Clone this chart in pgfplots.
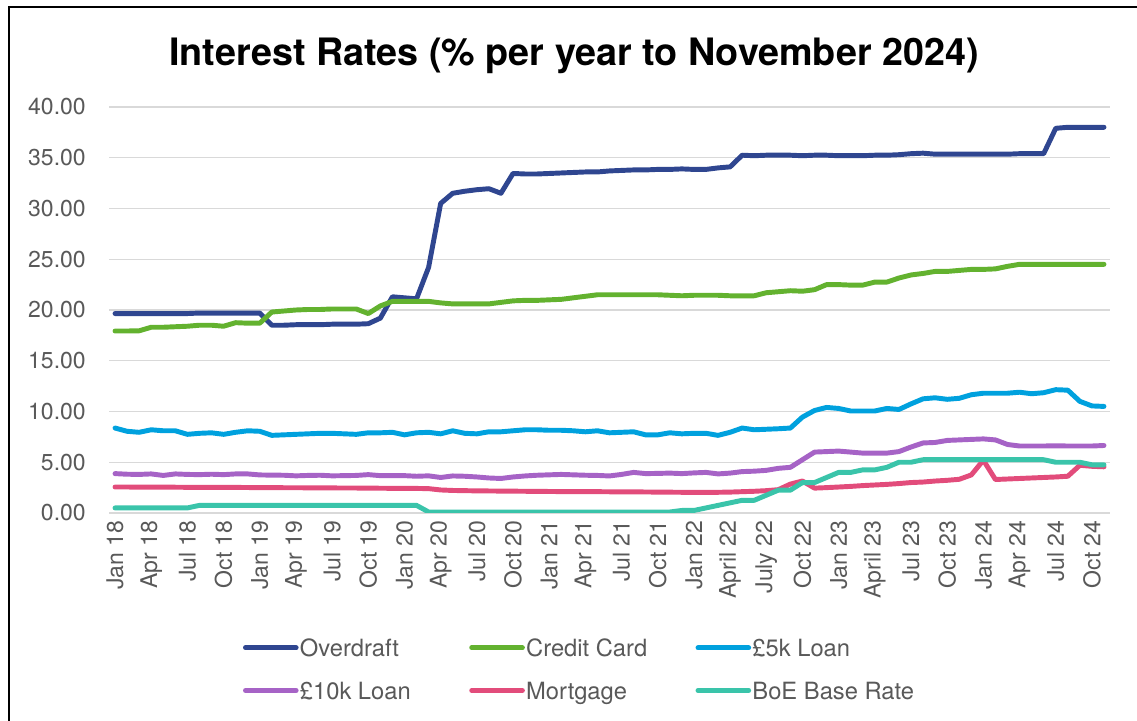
\documentclass[border=0pt]{standalone}
\usepackage{fontspec}
\setmainfont{TeX Gyre Heros}
\usepackage{pgfplots}
\pgfplotsset{compat=1.18}
\usepackage{pgfplotstable}

\definecolor{cOD}{HTML}{2F4690}
\definecolor{cCC}{HTML}{63B22F}
\definecolor{cL5}{HTML}{00A1DE}
\definecolor{cL10}{HTML}{A663C6}
\definecolor{cMG}{HTML}{E24C7B}
\definecolor{cBOE}{HTML}{3AC4AA}
\definecolor{txt}{HTML}{595959}
\definecolor{grid}{HTML}{D9D9D9}

% month index (0 = Jan 18), rates in % per year
\pgfplotstableread{
m  od     cc     l5     l10   mg    boe
0  19.65  17.93  8.37   3.88  2.56  0.5
1  19.65  17.93  8.05   3.82  2.56  0.5
2  19.65  17.95  7.95   3.80  2.55  0.5
3  19.65  18.30  8.20   3.85  2.55  0.5
4  19.65  18.30  8.10   3.70  2.54  0.5
5  19.65  18.35  8.10   3.85  2.54  0.5
6  19.65  18.40  7.75   3.80  2.53  0.5
7  19.70  18.50  7.85   3.78  2.53  0.75
8  19.70  18.50  7.90   3.82  2.53  0.75
9  19.70  18.40  7.75   3.78  2.52  0.75
10 19.70  18.75  7.95   3.85  2.52  0.75
11 19.70  18.70  8.10   3.85  2.51  0.75
12 19.70  18.70  8.05   3.75  2.50  0.75
13 18.50  19.80  7.65   3.73  2.50  0.75
14 18.50  19.90  7.70   3.72  2.49  0.75
15 18.55  20.00  7.75   3.66  2.49  0.75
16 18.55  20.05  7.80   3.70  2.48  0.75
17 18.55  20.05  7.85   3.72  2.48  0.75
18 18.60  20.10  7.85   3.66  2.47  0.75
19 18.60  20.10  7.80   3.68  2.46  0.75
20 18.60  20.10  7.75   3.70  2.46  0.75
21 18.65  19.65  7.90   3.78  2.45  0.75
22 19.20  20.40  7.90   3.68  2.44  0.75
23 21.30  20.85  7.95   3.68  2.43  0.75
24 21.20  20.85  7.70   3.68  2.42  0.75
25 21.10  20.85  7.90   3.62  2.42  0.75
26 24.20  20.85  7.95   3.66  2.40  0.1
27 30.50  20.70  7.80   3.50  2.27  0.1
28 31.50  20.60  8.10   3.65  2.22  0.1
29 31.70  20.60  7.85   3.62  2.20  0.1
30 31.85  20.60  7.80   3.55  2.18  0.1
31 31.95  20.60  8.00   3.45  2.17  0.1
32 31.50  20.75  8.00   3.40  2.16  0.1
33 33.45  20.90  8.10   3.55  2.15  0.1
34 33.40  20.95  8.20   3.65  2.14  0.1
35 33.40  20.95  8.20   3.72  2.13  0.1
36 33.45  21.00  8.15   3.76  2.12  0.1
37 33.50  21.05  8.15   3.80  2.11  0.1
38 33.55  21.20  8.10   3.76  2.11  0.1
39 33.60  21.35  8.00   3.72  2.10  0.1
40 33.60  21.50  8.10   3.70  2.10  0.1
41 33.70  21.50  7.90   3.65  2.09  0.1
42 33.75  21.50  7.95   3.80  2.08  0.1
43 33.80  21.50  8.00   4.00  2.08  0.1
44 33.80  21.50  7.70   3.88  2.07  0.1
45 33.85  21.50  7.70   3.90  2.06  0.1
46 33.85  21.45  7.90   3.93  2.05  0.1
47 33.90  21.40  7.80   3.88  2.04  0.25
48 33.85  21.45  7.85   3.95  2.04  0.25
49 33.85  21.45  7.85   4.00  2.04  0.5
50 34.00  21.45  7.65   3.85  2.04  0.75
51 34.10  21.40  7.95   3.93  2.06  1.0
52 35.25  21.40  8.37   4.08  2.10  1.25
53 35.20  21.40  8.20   4.12  2.14  1.25
54 35.25  21.70  8.25   4.20  2.20  1.75
55 35.25  21.80  8.30   4.40  2.30  2.25
56 35.25  21.90  8.37   4.50  2.85  2.25
57 35.20  21.85  9.45   5.25  3.15  3.0
58 35.25  22.00  10.10  6.00  2.45  3.0
59 35.25  22.50  10.40  6.05  2.50  3.5
60 35.20  22.50  10.30  6.10  2.56  4.0
61 35.20  22.45  10.05  6.00  2.62  4.0
62 35.20  22.45  10.05  5.90  2.70  4.25
63 35.25  22.75  10.05  5.90  2.76  4.25
64 35.25  22.75  10.30  5.90  2.82  4.5
65 35.30  23.15  10.20  6.05  2.90  5.0
66 35.40  23.45  10.75  6.50  3.00  5.0
67 35.45  23.60  11.25  6.90  3.05  5.25
68 35.35  23.80  11.35  6.95  3.15  5.25
69 35.35  23.80  11.20  7.15  3.22  5.25
70 35.35  23.90  11.30  7.20  3.32  5.25
71 35.35  24.00  11.65  7.25  3.75  5.25
72 35.35  24.00  11.80  7.30  5.20  5.25
73 35.35  24.05  11.80  7.20  3.30  5.25
74 35.35  24.30  11.80  6.75  3.35  5.25
75 35.40  24.50  11.90  6.60  3.40  5.25
76 35.40  24.50  11.75  6.60  3.45  5.25
77 35.40  24.50  11.85  6.60  3.50  5.25
78 37.90  24.50  12.15  6.62  3.55  5.0
79 38.00  24.50  12.10  6.60  3.62  5.0
80 38.00  24.50  11.00  6.60  4.70  5.0
81 38.00  24.50  10.55  6.60  4.60  4.75
82 38.00  24.50  10.50  6.65  4.55  4.75
}\rates

\newcommand{\lbl}[1]{\makebox[128pt][l]{\hspace{1pt}#1\strut}}

\begin{document}
\begin{tikzpicture}
  \useasboundingbox (0,0) rectangle (852.75pt,540pt);
  % chart frame (left and top edges visible)
  \draw[line width=1.5pt] (7.1pt,-2pt) -- (7.1pt,534.4pt) -- (856pt,534.4pt);
  \node[anchor=base, font=\fontsize{28.3}{33}\selectfont\bfseries]
    at (430.5pt,490.5pt) {Interest Rates (\% per year to November 2024)};

  \begin{axis}[
      at={(81.75pt,155.25pt)}, anchor=south west,
      scale only axis,
      width=750.75pt, height=304.5pt,
      xmin=-0.5, xmax=82.5,
      ymin=0, ymax=40,
      axis line style={draw=none},
      major tick length=0pt,
      ymajorgrids,
      major grid style={draw=grid, line width=1.1pt},
      ytick={0,5,...,40},
      yticklabels={0.00,5.00,10.00,15.00,20.00,25.00,30.00,35.00,40.00},
      xtick={0,3,...,81},
      xticklabels={Jan 18,Apr 18,Jul 18,Oct 18,Jan 19,Apr 19,Jul 19,Oct 19,
        Jan 20,Apr 20,Jul 20,Oct 20,Jan 21,Apr 21,Jul 21,Oct 21,Jan 22,
        April 22,July 22,Oct 22,Jan 23,April 23,Jul 23,Oct 23,Jan 24,Apr 24,
        Jul 24,Oct 24},
      tick label style={font=\fontsize{17.25}{20.7}\selectfont, text=txt},
      yticklabel style={inner sep=0pt, anchor=east, xshift=-17.25pt},
      xticklabel style={inner sep=0pt, rotate=90, anchor=east, xshift=-5.5pt},
      every axis plot/.append style={line width=3.7pt, line cap=round, line join=round, mark=none},
      legend columns=3,
      legend cell align=left,
      legend style={at={(0.13387,-0.3059)}, anchor=north west, draw=none,
        inner sep=0pt, outer sep=0pt, column sep=0pt, row sep=16pt,
        font=\fontsize{17.8}{20.7}\selectfont, text=txt,
        nodes={inner sep=0pt}},
      legend image code/.code={\draw[#1] (1.8pt,0pt) -- (39.8pt,0pt);},
    ]
    \addplot[cOD]  table[x=m, y=od]  {\rates};
    \addplot[cCC]  table[x=m, y=cc]  {\rates};
    \addplot[cL5]  table[x=m, y=l5]  {\rates};
    \addplot[cL10] table[x=m, y=l10] {\rates};
    \addplot[cMG]  table[x=m, y=mg]  {\rates};
    \addplot[cBOE] table[x=m, y=boe] {\rates};
    \legend{\lbl{Overdraft},\lbl{Credit Card},\lbl{£5k Loan},
      \lbl{£10k Loan},\lbl{Mortgage},\lbl{BoE Base Rate}}
  \end{axis}
\end{tikzpicture}
\end{document}
